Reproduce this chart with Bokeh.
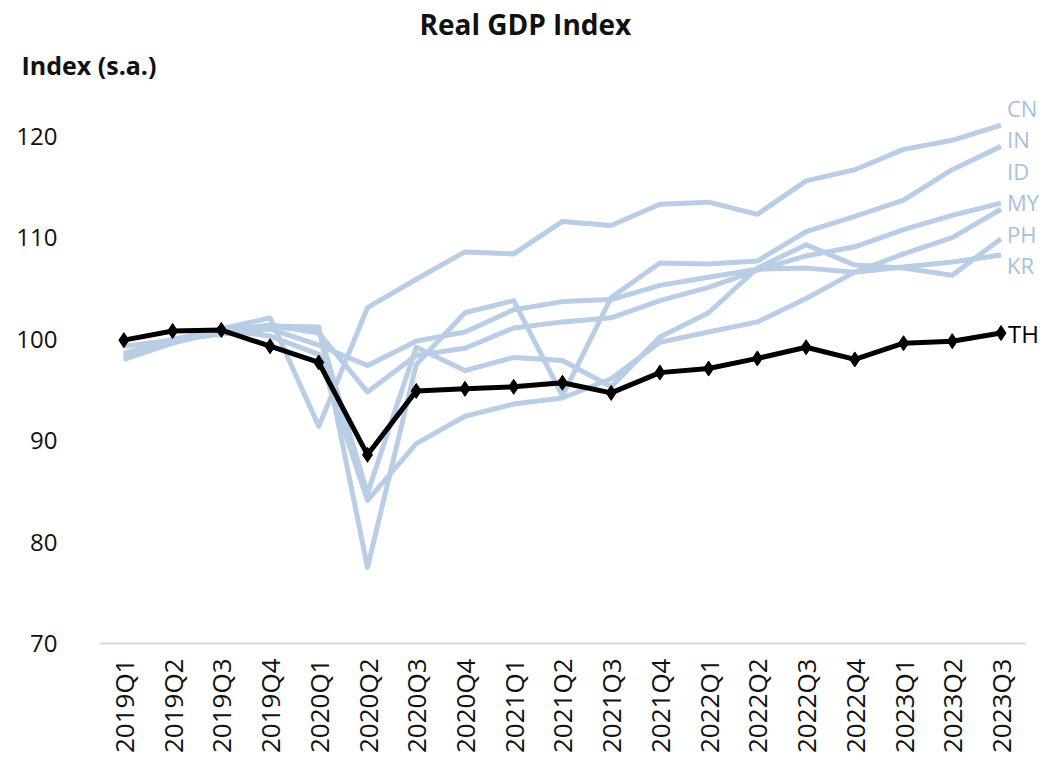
from bokeh.plotting import figure
from bokeh.models import Range1d, Title, FixedTicker
from bokeh.core.properties import value
from bokeh.embed import file_html
from bokeh.resources import INLINE
import math

quarters = ["2019Q1", "2019Q2", "2019Q3", "2019Q4",
            "2020Q1", "2020Q2", "2020Q3", "2020Q4",
            "2021Q1", "2021Q2", "2021Q3", "2021Q4",
            "2022Q1", "2022Q2", "2022Q3", "2022Q4",
            "2023Q1", "2023Q2", "2023Q3"]

CN = [98.0, 99.6, 101.0, 102.1, 91.4, 103.1, 105.9, 108.6, 108.4, 111.6,
      111.2, 113.3, 113.5, 112.3, 115.6, 116.7, 118.7, 119.6, 121.1]
IN = [98.2, 99.8, 100.6, 101.3, 101.2, 77.5, 97.5, 102.6, 103.8, 94.4,
      104.1, 107.5, 107.4, 107.7, 110.6, 112.1, 113.7, 116.7, 119.0]
ID = [98.4, 99.6, 100.8, 101.4, 100.6, 94.8, 98.4, 99.1, 101.1, 101.7,
      102.1, 103.8, 105.1, 106.8, 108.2, 109.1, 110.8, 112.2, 113.4]
MY = [98.6, 100.0, 100.9, 101.2, 100.9, 84.8, 99.2, 96.9, 98.2, 97.9,
      95.3, 100.2, 102.6, 107.0, 109.3, 107.3, 107.0, 106.3, 109.9]
PH = [98.0, 99.8, 100.9, 100.3, 98.5, 84.1, 89.7, 92.4, 93.6, 94.2,
      96.1, 99.7, 100.7, 101.7, 104.0, 106.6, 108.4, 110.0, 112.8]
KR = [99.3, 99.9, 100.5, 101.0, 99.4, 97.4, 99.8, 100.7, 102.9, 103.7,
      103.9, 105.3, 106.1, 106.9, 107.0, 106.6, 107.1, 107.6, 108.3]
TH = [99.9, 100.8, 100.9, 99.3, 97.7, 88.6, 94.9, 95.1, 95.3, 95.7,
      94.7, 96.7, 97.1, 98.1, 99.2, 98.0, 99.6, 99.8, 100.6]

names = ["CN", "IN", "ID", "MY", "PH", "KR"]
series = [CN, IN, ID, MY, PH, KR]
y_ticks = [70, 80, 90, 100, 110, 120]

BLUE = "#b9cde5"
LABEL_BLUE = "#a7c0e0"
FONT = "Open Sans"

xs = list(range(len(quarters)))

p = figure(frame_width=940, frame_height=558,
           x_range=Range1d(-0.5, 18.79), y_range=Range1d(70, 125),
           output_backend="svg", toolbar_location=None,
           min_border_left=99, min_border_right=0,
           min_border_top=85, min_border_bottom=107,
           background_fill_color="white", border_fill_color="white",
           outline_line_color=None)
p.title.visible = False

sub = Title(text="Index (s.a.)", align="left", offset=-78,
            text_font=FONT, text_font_size="25px", text_font_style="bold",
            text_color="#111111", standoff=7)
p.add_layout(sub, "above")
main = Title(text="Real GDP Index", align="left", offset=320,
             text_font=FONT, text_font_size="28px", text_font_style="bold",
             text_color="#111111", standoff=0)
p.add_layout(main, "above")

p.xgrid.visible = False
p.ygrid.visible = False

xa = p.xaxis[0]
xa.ticker = FixedTicker(ticks=xs)
xa.major_label_overrides = {i: q for i, q in enumerate(quarters)}
xa.major_label_orientation = math.pi / 2
xa.major_tick_line_color = None
xa.minor_tick_line_color = None
xa.axis_line_color = "#d9d9d9"
xa.axis_line_width = 2
xa.bounds = (-0.5, 18.5)
xa.major_label_text_font = FONT
xa.major_label_text_font_size = "26px"
xa.major_label_text_color = "#111111"
xa.major_label_standoff = 9

ya = p.yaxis[0]
ya.ticker = FixedTicker(ticks=y_ticks)
ya.axis_line_color = None
ya.major_tick_line_color = None
ya.minor_tick_line_color = None
ya.major_label_text_font = FONT
ya.major_label_text_font_size = "24px"
ya.major_label_text_color = "#111111"
ya.major_label_standoff = 36

for s in series:
    p.line(xs, s, line_color=BLUE, line_width=5, line_join="round")

p.line(xs, TH, line_color="black", line_width=5)
p.scatter(xs, TH, marker="diamond", size=15, color="black")

last = xs[-1]
label_y = [CN[-1] + 1.7 - 3.1 * i for i in range(len(names))]
p.text(x=[last] * len(names), y=label_y, text=names,
       text_font=value(FONT), text_font_size="22px", text_color=LABEL_BLUE,
       text_baseline="middle", text_align="left", x_offset=6)
p.text(x=[last], y=[TH[-1]], text=["TH"],
       text_font=value(FONT), text_font_size="24px", text_color="black",
       text_baseline="middle", text_align="left", x_offset=7)

open("out.html", "w").write(file_html(p, INLINE))
